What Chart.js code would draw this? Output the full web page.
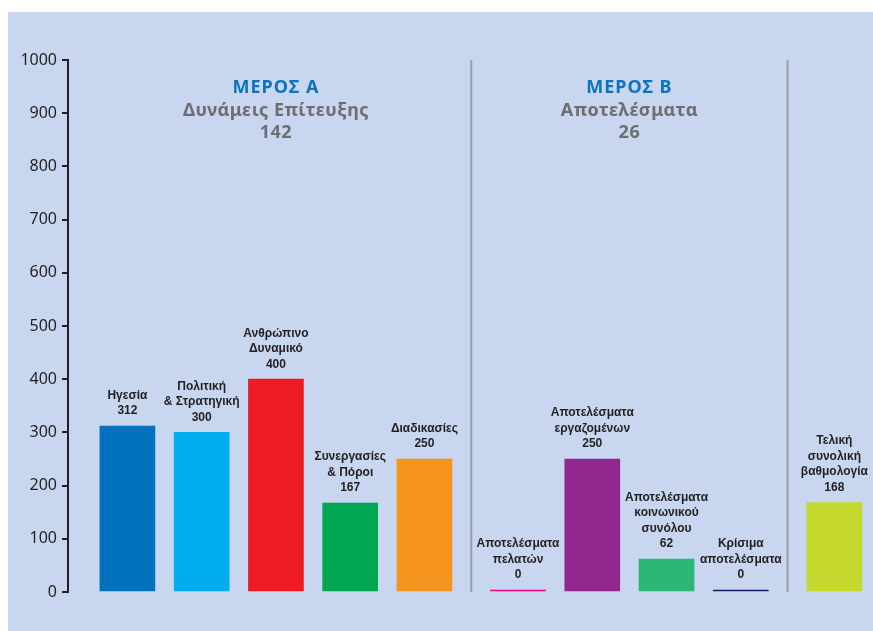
<!DOCTYPE html>
<html>
<head>
<meta charset="utf-8">
<script src="https://cdn.jsdelivr.net/npm/chart.js@4"></script>
<style>
  body { margin: 0; background: #fff; }
  canvas { display: block; }
</style>
</head>
<body>
<canvas id="score-chart" width="873" height="631"></canvas>
<script>
// bar labels (without the value line)
var barLabels = [
      ["Ηγεσία"],
      ["Πολιτική", "& Στρατηγική"],
      ["Ανθρώπινο", "Δυναμικό"],
      ["Συνεργασίες", "& Πόροι"],
      ["Διαδικασίες"],
      ["Αποτελέσματα", "πελατών"],
      ["Αποτελέσματα", "εργαζομένων"],
      ["Αποτελέσματα", "κοινωνικού", "συνόλου"],
      ["Κρίσιμα", "αποτελέσματα"],
      ["Τελική", "συνολική", "βαθμολογία"]
]
var scores = [312, 300, 400, 167, 250, 0, 250, 62, 0, 168]
// which part each bar belongs to (0 = A, 1 = B, 2 = total)
var groupOf = [0, 0, 0, 0, 0, 1, 1, 1, 1, 2]
var barColors = [
      "#0071bc", "#00aeef", "#ed1c24", "#00a651", "#f7941d",
      "#ec008c", "#92278f", "#2bb673", "#1b1464", "#c4d82e"
]
var groupTitles = ["ΜΕΡΟΣ Α", "ΜΕΡΟΣ Β"]
var groupNames = ["Δυνάμεις Επίτευξης", "Αποτελέσματα"]
var groupScores = [142, 26]
var yTicks = [0, 100, 200, 300, 400, 500, 600, 700, 800, 900, 1000]

var groupGap = 0.26
var xPos = scores.map(function(v, i) { return i + 1 + groupOf[i] * groupGap })
var points = scores.map(function(v, i) { return { x: xPos[i], y: v } })

var extras = {
      id: 'extras',
      beforeDraw: function(chart) {
            var c = chart.ctx
            c.save()
            c.fillStyle = '#fff'
            c.fillRect(0, 0, chart.width, chart.height)
            c.fillStyle = '#c8d6ef'
            c.fillRect(8, 12, chart.width - 8, chart.height - 12)
            c.restore()
      },
      afterDatasetsDraw: function(chart) {
            var c = chart.ctx
            var xs = chart.scales.x
            var area = chart.chartArea
            var meta = chart.getDatasetMeta(0)
            c.save()
            // separators between the parts
            c.strokeStyle = '#9a9ea6'
            c.lineWidth = 2
            for (var i = 1; i < scores.length; i++) {
                  if (groupOf[i] != groupOf[i - 1]) {
                        var px = xs.getPixelForValue((xPos[i] + xPos[i - 1]) / 2)
                        c.beginPath()
                        c.moveTo(px, area.top)
                        c.lineTo(px, area.bottom)
                        c.stroke()
                  }
            }
            // part headers
            c.textAlign = 'center'
            c.textBaseline = 'middle'
            for (var g = 0; g < groupTitles.length; g++) {
                  var sum = 0, n = 0
                  for (var k = 0; k < scores.length; k++) {
                        if (groupOf[k] == g) { sum += xPos[k]; n++ }
                  }
                  var cx = xs.getPixelForValue(sum / n)
                  c.font = 'bold 18px "Noto Sans"'
                  c.letterSpacing = '1px'
                  c.fillStyle = '#0f72bd'
                  c.fillText(groupTitles[g], cx, 88)
                  c.letterSpacing = '0.5px'
                  c.fillStyle = '#6d6e71'
                  c.fillText(groupNames[g], cx, 111)
                  c.fillText(String(groupScores[g]), cx, 133)
            }
            // labels above bars
            c.letterSpacing = '0px'
            c.font = 'bold 12px "Liberation Sans"'
            c.fillStyle = '#231f20'
            for (var j = 0; j < scores.length; j++) {
                  var bar = meta.data[j]
                  var lines = barLabels[j].concat([String(scores[j])])
                  var yBottom = bar.y - 15
                  for (var l = 0; l < lines.length; l++) {
                        c.fillText(lines[l], bar.x, yBottom - (lines.length - 1 - l) * 15.5)
                  }
            }
            c.restore()
      }
}

var ctx = document.getElementById('score-chart').getContext('2d')
var chart = new Chart(ctx, {
      type: 'bar',
      data: {
            datasets: [{
                  data: points,
                  backgroundColor: barColors,
                  barThickness: 55,
                  minBarLength: 2
            }]
      },
      options: {
            responsive: false,
            animation: false,
            layout: { padding: { top: 60, bottom: 39, left: 0, right: 3 } },
            plugins: {
                  legend: { display: false },
                  tooltip: { enabled: false }
            },
            scales: {
                  x: {
                        type: 'linear',
                        min: 0.2,
                        max: 11,
                        offset: false,
                        display: false
                  },
                  y: {
                        min: 0,
                        max: 1000,
                        afterBuildTicks: function(s) {
                              s.ticks = yTicks.map(function(v) { return { value: v } })
                        },
                        afterFit: function(s) { s.width = 68 },
                        ticks: {
                              color: '#231f20',
                              padding: 5,
                              font: { family: '"Noto Sans"', size: 16 },
                              callback: function(v) { return String(v) }
                        },
                        grid: {
                              drawOnChartArea: false,
                              tickLength: 6,
                              color: '#231f20',
                              lineWidth: 2
                        },
                        border: { color: '#231f20', width: 2 }
                  }
            }
      },
      plugins: [extras]
})
</script>
</body>
</html>
